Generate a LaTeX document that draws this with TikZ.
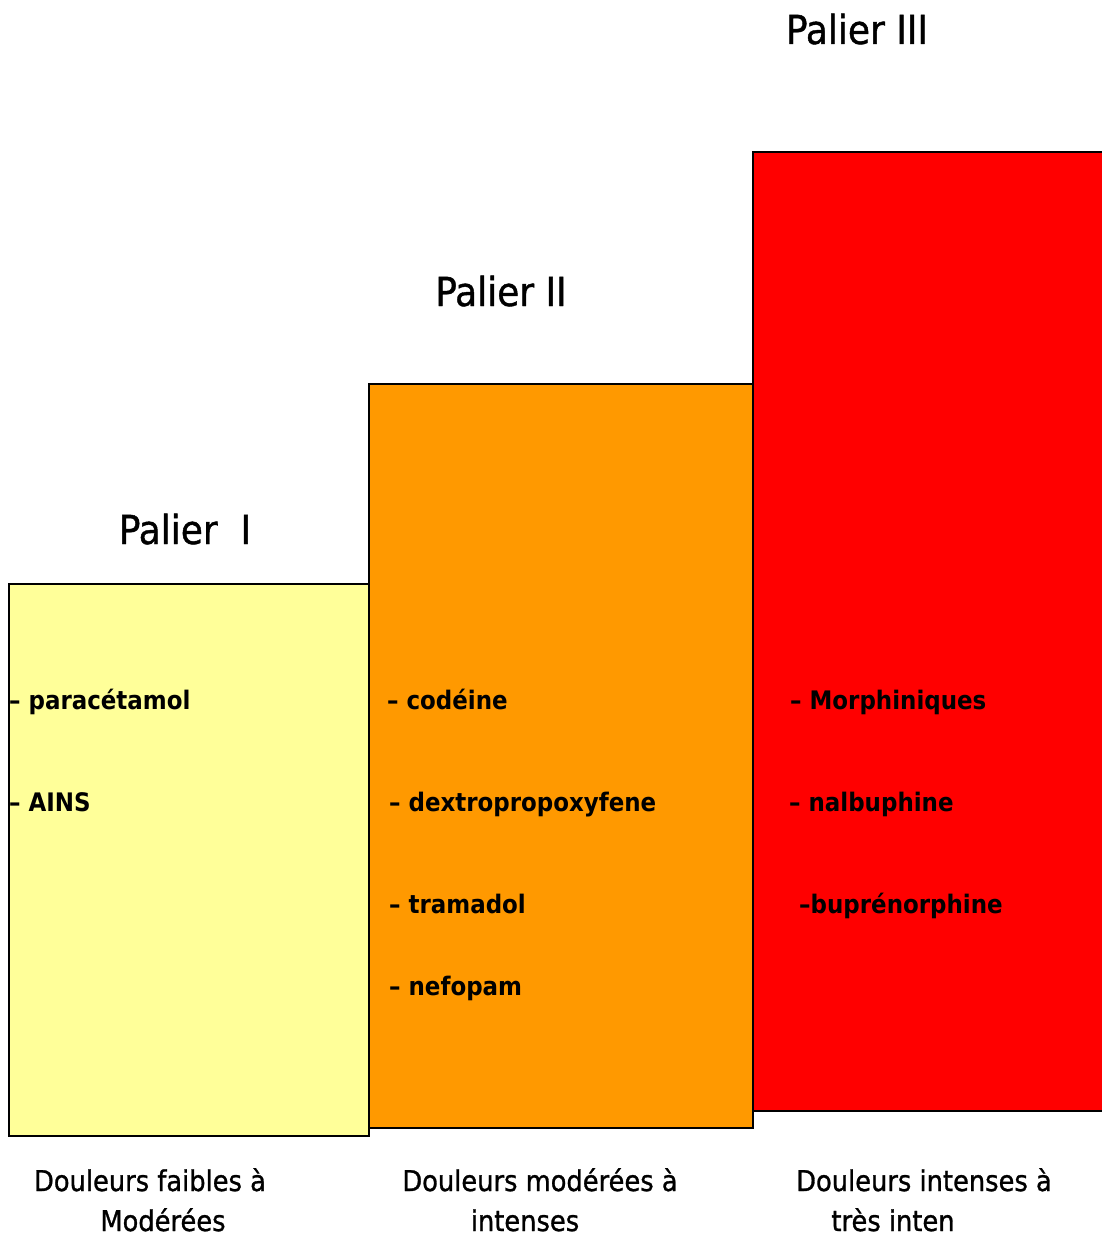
\documentclass[tikz,border=0pt]{standalone}
\usepackage{fontspec}
\setmainfont{DejaVu Sans}
\newfontfamily\condfont{DejaVu Sans Condensed}
\newfontfamily\demifont[FakeBold=1]{DejaVu Sans Condensed}
\usetikzlibrary{positioning}
\definecolor{jaunepale}{RGB}{255,255,153}
\definecolor{orangevif}{RGB}{255,153,0}
\definecolor{rougevif}{RGB}{255,0,0}

\begin{document}
\begin{tikzpicture}[x=1pt,y=-1pt,
  palier/.style={draw=black,line width=2pt,inner sep=0pt,anchor=north west},
  titre/.style={anchor=base,inner sep=0pt,font=\demifont\fontsize{40}{46}\selectfont},
  produit/.style={anchor=base west,inner sep=0pt,font=\condfont\bfseries\fontsize{25.5}{30}\selectfont},
  douleur/.style={anchor=base,inner sep=0pt,font=\demifont\fontsize{28.6}{32}\selectfont}]
  \useasboundingbox (0,0) rectangle (1102,1236);
  \clip (0,0) rectangle (1102,1236);

  % les trois marches
  \node[palier,fill=jaunepale,minimum width=360pt,minimum height=552pt] (p1) at (8,583) {};
  \node[palier,fill=orangevif,minimum width=384pt,minimum height=744pt] (p2) at (368,383) {};
  \node[palier,fill=rougevif,minimum width=370pt,minimum height=959pt] (p3) at (752,151) {};

  % titres
  \node[titre] (t1) at (185,544) {Palier\ \ I};
  \node[titre] (t2) at (501,306) {Palier II};
  \node[titre] (t3) at (857,44) {Palier III};

  % medicaments
  \node[produit] (m11) at (9,709) {– paracétamol};
  \node[produit] (m12) at (9,811) {– AINS};
  \node[produit] (m21) at (387,709) {– codéine};
  \node[produit] (m22) at (389,811) {– dextropropoxyfene};
  \node[produit] (m23) at (389,913) {– tramadol};
  \node[produit] (m24) at (389,995) {– nefopam};
  \node[produit] (m31) at (790,709) {– Morphiniques};
  \node[produit] (m32) at (789,811) {– nalbuphine};
  \node[produit] (m33) at (799,913) {–buprénorphine};

  % intensite de la douleur
  \node[douleur] (d11) at (150,1191) {Douleurs faibles à};
  \node[douleur] (d12) at (163,1231) {Modérées};
  \node[douleur] (d21) at (540,1191) {Douleurs modérées à};
  \node[douleur] (d22) at (525,1231) {intenses};
  \node[douleur] (d31) at (924,1191) {Douleurs intenses à};
  \node[douleur] (d32) at (893,1231) {très inten};
\end{tikzpicture}
\end{document}
